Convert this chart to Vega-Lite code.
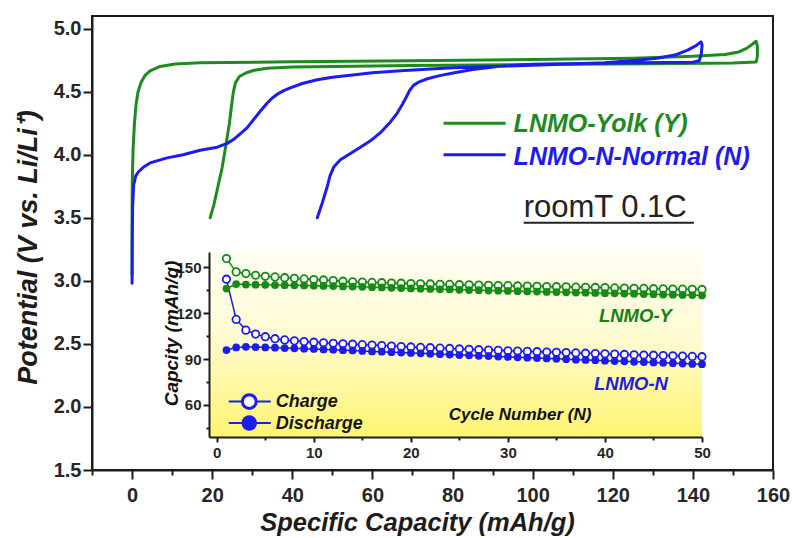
{
  "$schema": "https://vega.github.io/schema/vega-lite/v6.json",
  "width": 681,
  "height": 454,
  "autosize": {"type": "none"},
  "padding": {"left": 92, "top": 16, "right": 19, "bottom": 68},
  "background": "white",
  "config": {
    "font": "Liberation Sans",
    "view": {"stroke": "#1c1c1c", "strokeWidth": 2},
    "axis": {
      "grid": false,
      "domainColor": "#1c1c1c",
      "domainWidth": 2,
      "tickColor": "#1c1c1c",
      "tickWidth": 2,
      "labelColor": "#262626",
      "labelFont": "Liberation Sans",
      "labelFontWeight": "bold",
      "labelOverlap": false,
      "labelFlush": false,
      "titleColor": "#1c1c1c",
      "titleFont": "Liberation Sans",
      "titleFontWeight": "bold",
      "titleFontStyle": "italic"
    }
  },
  "datasets": {
    "curves": [
      {"s": "Y", "i": 0, "q": 0, "v": 3.05},
      {"s": "Y", "i": 1, "q": 0.0, "v": 3.45},
      {"s": "Y", "i": 2, "q": 0.05, "v": 3.78},
      {"s": "Y", "i": 3, "q": 0.25, "v": 4.04},
      {"s": "Y", "i": 4, "q": 0.6, "v": 4.25},
      {"s": "Y", "i": 5, "q": 1.0, "v": 4.4},
      {"s": "Y", "i": 6, "q": 1.5, "v": 4.5},
      {"s": "Y", "i": 7, "q": 2.2, "v": 4.57},
      {"s": "Y", "i": 8, "q": 3.25, "v": 4.63},
      {"s": "Y", "i": 9, "q": 4.5, "v": 4.665},
      {"s": "Y", "i": 10, "q": 7, "v": 4.7},
      {"s": "Y", "i": 11, "q": 10.75, "v": 4.72},
      {"s": "Y", "i": 12, "q": 17, "v": 4.73},
      {"s": "Y", "i": 13, "q": 40, "v": 4.737},
      {"s": "Y", "i": 14, "q": 70, "v": 4.745},
      {"s": "Y", "i": 15, "q": 100, "v": 4.755},
      {"s": "Y", "i": 16, "q": 125, "v": 4.765},
      {"s": "Y", "i": 17, "q": 140, "v": 4.78},
      {"s": "Y", "i": 18, "q": 148, "v": 4.795},
      {"s": "Y", "i": 19, "q": 151.5, "v": 4.815},
      {"s": "Y", "i": 20, "q": 153.5, "v": 4.845},
      {"s": "Y", "i": 21, "q": 155, "v": 4.88},
      {"s": "Y", "i": 22, "q": 155.75, "v": 4.9},
      {"s": "Y", "i": 23, "q": 156.1, "v": 4.86},
      {"s": "Y", "i": 24, "q": 156.1, "v": 4.78},
      {"s": "Y", "i": 25, "q": 155.8, "v": 4.735},
      {"s": "Y", "i": 26, "q": 150, "v": 4.728},
      {"s": "Y", "i": 27, "q": 130, "v": 4.722},
      {"s": "Y", "i": 28, "q": 100, "v": 4.715},
      {"s": "Y", "i": 29, "q": 70, "v": 4.708},
      {"s": "Y", "i": 30, "q": 50, "v": 4.7},
      {"s": "Y", "i": 31, "q": 40, "v": 4.695},
      {"s": "Y", "i": 32, "q": 33.75, "v": 4.685},
      {"s": "Y", "i": 33, "q": 30.5, "v": 4.67},
      {"s": "Y", "i": 34, "q": 28.5, "v": 4.65},
      {"s": "Y", "i": 35, "q": 26.8, "v": 4.62},
      {"s": "Y", "i": 36, "q": 25.8, "v": 4.57},
      {"s": "Y", "i": 37, "q": 25.25, "v": 4.49},
      {"s": "Y", "i": 38, "q": 24.8, "v": 4.38},
      {"s": "Y", "i": 39, "q": 24.3, "v": 4.25},
      {"s": "Y", "i": 40, "q": 23.5, "v": 4.09},
      {"s": "Y", "i": 41, "q": 22.5, "v": 3.9},
      {"s": "Y", "i": 42, "q": 21.25, "v": 3.72},
      {"s": "Y", "i": 43, "q": 20.4, "v": 3.6},
      {"s": "Y", "i": 44, "q": 19.5, "v": 3.5},
      {"s": "N", "i": 0, "q": 0, "v": 2.98},
      {"s": "N", "i": 1, "q": 0.05, "v": 3.3},
      {"s": "N", "i": 2, "q": 0.15, "v": 3.6},
      {"s": "N", "i": 3, "q": 0.4, "v": 3.76},
      {"s": "N", "i": 4, "q": 0.9, "v": 3.83},
      {"s": "N", "i": 5, "q": 1.6, "v": 3.865},
      {"s": "N", "i": 6, "q": 3, "v": 3.905},
      {"s": "N", "i": 7, "q": 4.5, "v": 3.935},
      {"s": "N", "i": 8, "q": 8.75, "v": 3.975},
      {"s": "N", "i": 9, "q": 12.75, "v": 4.0},
      {"s": "N", "i": 10, "q": 17, "v": 4.035},
      {"s": "N", "i": 11, "q": 21.25, "v": 4.06},
      {"s": "N", "i": 12, "q": 23.75, "v": 4.09},
      {"s": "N", "i": 13, "q": 25.5, "v": 4.125},
      {"s": "N", "i": 14, "q": 27, "v": 4.165},
      {"s": "N", "i": 15, "q": 28.75, "v": 4.215},
      {"s": "N", "i": 16, "q": 30.25, "v": 4.275},
      {"s": "N", "i": 17, "q": 32, "v": 4.345},
      {"s": "N", "i": 18, "q": 33.75, "v": 4.41},
      {"s": "N", "i": 19, "q": 35, "v": 4.45},
      {"s": "N", "i": 20, "q": 36.25, "v": 4.48},
      {"s": "N", "i": 21, "q": 38, "v": 4.51},
      {"s": "N", "i": 22, "q": 39.5, "v": 4.53},
      {"s": "N", "i": 23, "q": 42.5, "v": 4.565},
      {"s": "N", "i": 24, "q": 46.25, "v": 4.595},
      {"s": "N", "i": 25, "q": 50, "v": 4.615},
      {"s": "N", "i": 26, "q": 54.5, "v": 4.63},
      {"s": "N", "i": 27, "q": 60, "v": 4.65},
      {"s": "N", "i": 28, "q": 67, "v": 4.665},
      {"s": "N", "i": 29, "q": 80, "v": 4.69},
      {"s": "N", "i": 30, "q": 100, "v": 4.71},
      {"s": "N", "i": 31, "q": 118, "v": 4.73},
      {"s": "N", "i": 32, "q": 126, "v": 4.75},
      {"s": "N", "i": 33, "q": 131, "v": 4.765},
      {"s": "N", "i": 34, "q": 135.5, "v": 4.79},
      {"s": "N", "i": 35, "q": 138.7, "v": 4.83},
      {"s": "N", "i": 36, "q": 140.8, "v": 4.865},
      {"s": "N", "i": 37, "q": 142, "v": 4.895},
      {"s": "N", "i": 38, "q": 142.3, "v": 4.87},
      {"s": "N", "i": 39, "q": 142.1, "v": 4.8},
      {"s": "N", "i": 40, "q": 141.6, "v": 4.745},
      {"s": "N", "i": 41, "q": 140, "v": 4.733},
      {"s": "N", "i": 42, "q": 120, "v": 4.728},
      {"s": "N", "i": 43, "q": 100, "v": 4.718},
      {"s": "N", "i": 44, "q": 91.25, "v": 4.7},
      {"s": "N", "i": 45, "q": 85, "v": 4.675},
      {"s": "N", "i": 46, "q": 80.5, "v": 4.65},
      {"s": "N", "i": 47, "q": 76.5, "v": 4.625},
      {"s": "N", "i": 48, "q": 73.5, "v": 4.6},
      {"s": "N", "i": 49, "q": 71.5, "v": 4.575},
      {"s": "N", "i": 50, "q": 70.25, "v": 4.55},
      {"s": "N", "i": 51, "q": 69.3, "v": 4.51},
      {"s": "N", "i": 52, "q": 68.5, "v": 4.46},
      {"s": "N", "i": 53, "q": 67.5, "v": 4.4},
      {"s": "N", "i": 54, "q": 66.2, "v": 4.33},
      {"s": "N", "i": 55, "q": 64.5, "v": 4.26},
      {"s": "N", "i": 56, "q": 62, "v": 4.175},
      {"s": "N", "i": 57, "q": 59.5, "v": 4.11},
      {"s": "N", "i": 58, "q": 57, "v": 4.06},
      {"s": "N", "i": 59, "q": 54.5, "v": 4.01},
      {"s": "N", "i": 60, "q": 52, "v": 3.96},
      {"s": "N", "i": 61, "q": 50.3, "v": 3.9},
      {"s": "N", "i": 62, "q": 49.4, "v": 3.83},
      {"s": "N", "i": 63, "q": 48.75, "v": 3.75},
      {"s": "N", "i": 64, "q": 47.5, "v": 3.62},
      {"s": "N", "i": 65, "q": 46.25, "v": 3.5}
    ],
    "cycles": [
      {"c": 1, "s": "Y", "k": "Charge", "cap": 155.7}, {"c": 2, "s": "Y", "k": "Charge", "cap": 147.0}, {"c": 3, "s": "Y", "k": "Charge", "cap": 145.9}, {"c": 4, "s": "Y", "k": "Charge", "cap": 144.8}, {"c": 5, "s": "Y", "k": "Charge", "cap": 144.1},
      {"c": 6, "s": "Y", "k": "Charge", "cap": 143.7}, {"c": 7, "s": "Y", "k": "Charge", "cap": 143.2}, {"c": 8, "s": "Y", "k": "Charge", "cap": 142.8}, {"c": 9, "s": "Y", "k": "Charge", "cap": 142.4}, {"c": 10, "s": "Y", "k": "Charge", "cap": 142.0},
      {"c": 11, "s": "Y", "k": "Charge", "cap": 141.7}, {"c": 12, "s": "Y", "k": "Charge", "cap": 141.3}, {"c": 13, "s": "Y", "k": "Charge", "cap": 140.9}, {"c": 14, "s": "Y", "k": "Charge", "cap": 140.5}, {"c": 15, "s": "Y", "k": "Charge", "cap": 140.3},
      {"c": 16, "s": "Y", "k": "Charge", "cap": 140.1}, {"c": 17, "s": "Y", "k": "Charge", "cap": 139.9}, {"c": 18, "s": "Y", "k": "Charge", "cap": 139.7}, {"c": 19, "s": "Y", "k": "Charge", "cap": 139.6}, {"c": 20, "s": "Y", "k": "Charge", "cap": 139.4},
      {"c": 21, "s": "Y", "k": "Charge", "cap": 139.2}, {"c": 22, "s": "Y", "k": "Charge", "cap": 139.1}, {"c": 23, "s": "Y", "k": "Charge", "cap": 138.9}, {"c": 24, "s": "Y", "k": "Charge", "cap": 138.8}, {"c": 25, "s": "Y", "k": "Charge", "cap": 138.6},
      {"c": 26, "s": "Y", "k": "Charge", "cap": 138.5}, {"c": 27, "s": "Y", "k": "Charge", "cap": 138.4}, {"c": 28, "s": "Y", "k": "Charge", "cap": 138.2}, {"c": 29, "s": "Y", "k": "Charge", "cap": 138.1}, {"c": 30, "s": "Y", "k": "Charge", "cap": 138.0},
      {"c": 31, "s": "Y", "k": "Charge", "cap": 137.8}, {"c": 32, "s": "Y", "k": "Charge", "cap": 137.7}, {"c": 33, "s": "Y", "k": "Charge", "cap": 137.6}, {"c": 34, "s": "Y", "k": "Charge", "cap": 137.4}, {"c": 35, "s": "Y", "k": "Charge", "cap": 137.3},
      {"c": 36, "s": "Y", "k": "Charge", "cap": 137.2}, {"c": 37, "s": "Y", "k": "Charge", "cap": 137.0}, {"c": 38, "s": "Y", "k": "Charge", "cap": 136.9}, {"c": 39, "s": "Y", "k": "Charge", "cap": 136.8}, {"c": 40, "s": "Y", "k": "Charge", "cap": 136.7},
      {"c": 41, "s": "Y", "k": "Charge", "cap": 136.5}, {"c": 42, "s": "Y", "k": "Charge", "cap": 136.4}, {"c": 43, "s": "Y", "k": "Charge", "cap": 136.3}, {"c": 44, "s": "Y", "k": "Charge", "cap": 136.2}, {"c": 45, "s": "Y", "k": "Charge", "cap": 136.0},
      {"c": 46, "s": "Y", "k": "Charge", "cap": 135.9}, {"c": 47, "s": "Y", "k": "Charge", "cap": 135.8}, {"c": 48, "s": "Y", "k": "Charge", "cap": 135.7}, {"c": 49, "s": "Y", "k": "Charge", "cap": 135.6}, {"c": 50, "s": "Y", "k": "Charge", "cap": 135.5},
      {"c": 1, "s": "Y", "k": "Discharge", "cap": 136.1}, {"c": 2, "s": "Y", "k": "Discharge", "cap": 139.0}, {"c": 3, "s": "Y", "k": "Discharge", "cap": 138.7}, {"c": 4, "s": "Y", "k": "Discharge", "cap": 138.6}, {"c": 5, "s": "Y", "k": "Discharge", "cap": 138.5},
      {"c": 6, "s": "Y", "k": "Discharge", "cap": 138.4}, {"c": 7, "s": "Y", "k": "Discharge", "cap": 138.3}, {"c": 8, "s": "Y", "k": "Discharge", "cap": 138.2}, {"c": 9, "s": "Y", "k": "Discharge", "cap": 138.1}, {"c": 10, "s": "Y", "k": "Discharge", "cap": 138.0},
      {"c": 11, "s": "Y", "k": "Discharge", "cap": 137.8}, {"c": 12, "s": "Y", "k": "Discharge", "cap": 137.7}, {"c": 13, "s": "Y", "k": "Discharge", "cap": 137.5}, {"c": 14, "s": "Y", "k": "Discharge", "cap": 137.4}, {"c": 15, "s": "Y", "k": "Discharge", "cap": 137.2},
      {"c": 16, "s": "Y", "k": "Discharge", "cap": 137.0}, {"c": 17, "s": "Y", "k": "Discharge", "cap": 136.8}, {"c": 18, "s": "Y", "k": "Discharge", "cap": 136.6}, {"c": 19, "s": "Y", "k": "Discharge", "cap": 136.4}, {"c": 20, "s": "Y", "k": "Discharge", "cap": 136.2},
      {"c": 21, "s": "Y", "k": "Discharge", "cap": 136.0}, {"c": 22, "s": "Y", "k": "Discharge", "cap": 135.8}, {"c": 23, "s": "Y", "k": "Discharge", "cap": 135.6}, {"c": 24, "s": "Y", "k": "Discharge", "cap": 135.5}, {"c": 25, "s": "Y", "k": "Discharge", "cap": 135.3},
      {"c": 26, "s": "Y", "k": "Discharge", "cap": 135.1}, {"c": 27, "s": "Y", "k": "Discharge", "cap": 135.0}, {"c": 28, "s": "Y", "k": "Discharge", "cap": 134.8}, {"c": 29, "s": "Y", "k": "Discharge", "cap": 134.7}, {"c": 30, "s": "Y", "k": "Discharge", "cap": 134.5},
      {"c": 31, "s": "Y", "k": "Discharge", "cap": 134.4}, {"c": 32, "s": "Y", "k": "Discharge", "cap": 134.2}, {"c": 33, "s": "Y", "k": "Discharge", "cap": 134.1}, {"c": 34, "s": "Y", "k": "Discharge", "cap": 133.9}, {"c": 35, "s": "Y", "k": "Discharge", "cap": 133.8},
      {"c": 36, "s": "Y", "k": "Discharge", "cap": 133.6}, {"c": 37, "s": "Y", "k": "Discharge", "cap": 133.5}, {"c": 38, "s": "Y", "k": "Discharge", "cap": 133.4}, {"c": 39, "s": "Y", "k": "Discharge", "cap": 133.2}, {"c": 40, "s": "Y", "k": "Discharge", "cap": 133.1},
      {"c": 41, "s": "Y", "k": "Discharge", "cap": 133.0}, {"c": 42, "s": "Y", "k": "Discharge", "cap": 132.8}, {"c": 43, "s": "Y", "k": "Discharge", "cap": 132.7}, {"c": 44, "s": "Y", "k": "Discharge", "cap": 132.5}, {"c": 45, "s": "Y", "k": "Discharge", "cap": 132.4},
      {"c": 46, "s": "Y", "k": "Discharge", "cap": 132.2}, {"c": 47, "s": "Y", "k": "Discharge", "cap": 132.1}, {"c": 48, "s": "Y", "k": "Discharge", "cap": 131.9}, {"c": 49, "s": "Y", "k": "Discharge", "cap": 131.8}, {"c": 50, "s": "Y", "k": "Discharge", "cap": 131.6},
      {"c": 1, "s": "N", "k": "Charge", "cap": 142.2}, {"c": 2, "s": "N", "k": "Charge", "cap": 115.9}, {"c": 3, "s": "N", "k": "Charge", "cap": 108.9}, {"c": 4, "s": "N", "k": "Charge", "cap": 106.3}, {"c": 5, "s": "N", "k": "Charge", "cap": 104.6},
      {"c": 6, "s": "N", "k": "Charge", "cap": 103.3}, {"c": 7, "s": "N", "k": "Charge", "cap": 102.5}, {"c": 8, "s": "N", "k": "Charge", "cap": 101.9}, {"c": 9, "s": "N", "k": "Charge", "cap": 101.4}, {"c": 10, "s": "N", "k": "Charge", "cap": 101.0},
      {"c": 11, "s": "N", "k": "Charge", "cap": 100.6}, {"c": 12, "s": "N", "k": "Charge", "cap": 100.3}, {"c": 13, "s": "N", "k": "Charge", "cap": 100.0}, {"c": 14, "s": "N", "k": "Charge", "cap": 99.7}, {"c": 15, "s": "N", "k": "Charge", "cap": 99.4},
      {"c": 16, "s": "N", "k": "Charge", "cap": 99.1}, {"c": 17, "s": "N", "k": "Charge", "cap": 98.8}, {"c": 18, "s": "N", "k": "Charge", "cap": 98.5}, {"c": 19, "s": "N", "k": "Charge", "cap": 98.2}, {"c": 20, "s": "N", "k": "Charge", "cap": 97.9},
      {"c": 21, "s": "N", "k": "Charge", "cap": 97.6}, {"c": 22, "s": "N", "k": "Charge", "cap": 97.4}, {"c": 23, "s": "N", "k": "Charge", "cap": 97.1}, {"c": 24, "s": "N", "k": "Charge", "cap": 96.9}, {"c": 25, "s": "N", "k": "Charge", "cap": 96.6},
      {"c": 26, "s": "N", "k": "Charge", "cap": 96.4}, {"c": 27, "s": "N", "k": "Charge", "cap": 96.1}, {"c": 28, "s": "N", "k": "Charge", "cap": 95.9}, {"c": 29, "s": "N", "k": "Charge", "cap": 95.7}, {"c": 30, "s": "N", "k": "Charge", "cap": 95.4},
      {"c": 31, "s": "N", "k": "Charge", "cap": 95.2}, {"c": 32, "s": "N", "k": "Charge", "cap": 95.0}, {"c": 33, "s": "N", "k": "Charge", "cap": 94.8}, {"c": 34, "s": "N", "k": "Charge", "cap": 94.6}, {"c": 35, "s": "N", "k": "Charge", "cap": 94.4},
      {"c": 36, "s": "N", "k": "Charge", "cap": 94.2}, {"c": 37, "s": "N", "k": "Charge", "cap": 94.0}, {"c": 38, "s": "N", "k": "Charge", "cap": 93.8}, {"c": 39, "s": "N", "k": "Charge", "cap": 93.6}, {"c": 40, "s": "N", "k": "Charge", "cap": 93.4},
      {"c": 41, "s": "N", "k": "Charge", "cap": 93.2}, {"c": 42, "s": "N", "k": "Charge", "cap": 93.0}, {"c": 43, "s": "N", "k": "Charge", "cap": 92.8}, {"c": 44, "s": "N", "k": "Charge", "cap": 92.6}, {"c": 45, "s": "N", "k": "Charge", "cap": 92.5},
      {"c": 46, "s": "N", "k": "Charge", "cap": 92.3}, {"c": 47, "s": "N", "k": "Charge", "cap": 92.1}, {"c": 48, "s": "N", "k": "Charge", "cap": 91.9}, {"c": 49, "s": "N", "k": "Charge", "cap": 91.7}, {"c": 50, "s": "N", "k": "Charge", "cap": 91.5},
      {"c": 1, "s": "N", "k": "Discharge", "cap": 95.9}, {"c": 2, "s": "N", "k": "Discharge", "cap": 97.6}, {"c": 3, "s": "N", "k": "Discharge", "cap": 98.0}, {"c": 4, "s": "N", "k": "Discharge", "cap": 97.8}, {"c": 5, "s": "N", "k": "Discharge", "cap": 97.6},
      {"c": 6, "s": "N", "k": "Discharge", "cap": 97.4}, {"c": 7, "s": "N", "k": "Discharge", "cap": 97.2}, {"c": 8, "s": "N", "k": "Discharge", "cap": 97.0}, {"c": 9, "s": "N", "k": "Discharge", "cap": 96.8}, {"c": 10, "s": "N", "k": "Discharge", "cap": 96.6},
      {"c": 11, "s": "N", "k": "Discharge", "cap": 96.3}, {"c": 12, "s": "N", "k": "Discharge", "cap": 96.1}, {"c": 13, "s": "N", "k": "Discharge", "cap": 95.8}, {"c": 14, "s": "N", "k": "Discharge", "cap": 95.6}, {"c": 15, "s": "N", "k": "Discharge", "cap": 95.3},
      {"c": 16, "s": "N", "k": "Discharge", "cap": 95.0}, {"c": 17, "s": "N", "k": "Discharge", "cap": 94.8}, {"c": 18, "s": "N", "k": "Discharge", "cap": 94.5}, {"c": 19, "s": "N", "k": "Discharge", "cap": 94.2}, {"c": 20, "s": "N", "k": "Discharge", "cap": 94.0},
      {"c": 21, "s": "N", "k": "Discharge", "cap": 93.7}, {"c": 22, "s": "N", "k": "Discharge", "cap": 93.4}, {"c": 23, "s": "N", "k": "Discharge", "cap": 93.2}, {"c": 24, "s": "N", "k": "Discharge", "cap": 92.9}, {"c": 25, "s": "N", "k": "Discharge", "cap": 92.6},
      {"c": 26, "s": "N", "k": "Discharge", "cap": 92.4}, {"c": 27, "s": "N", "k": "Discharge", "cap": 92.1}, {"c": 28, "s": "N", "k": "Discharge", "cap": 91.9}, {"c": 29, "s": "N", "k": "Discharge", "cap": 91.6}, {"c": 30, "s": "N", "k": "Discharge", "cap": 91.4},
      {"c": 31, "s": "N", "k": "Discharge", "cap": 91.1}, {"c": 32, "s": "N", "k": "Discharge", "cap": 90.9}, {"c": 33, "s": "N", "k": "Discharge", "cap": 90.6}, {"c": 34, "s": "N", "k": "Discharge", "cap": 90.4}, {"c": 35, "s": "N", "k": "Discharge", "cap": 90.1},
      {"c": 36, "s": "N", "k": "Discharge", "cap": 89.9}, {"c": 37, "s": "N", "k": "Discharge", "cap": 89.6}, {"c": 38, "s": "N", "k": "Discharge", "cap": 89.4}, {"c": 39, "s": "N", "k": "Discharge", "cap": 89.2}, {"c": 40, "s": "N", "k": "Discharge", "cap": 88.9},
      {"c": 41, "s": "N", "k": "Discharge", "cap": 88.7}, {"c": 42, "s": "N", "k": "Discharge", "cap": 88.5}, {"c": 43, "s": "N", "k": "Discharge", "cap": 88.2}, {"c": 44, "s": "N", "k": "Discharge", "cap": 88.0}, {"c": 45, "s": "N", "k": "Discharge", "cap": 87.8},
      {"c": 46, "s": "N", "k": "Discharge", "cap": 87.5}, {"c": 47, "s": "N", "k": "Discharge", "cap": 87.3}, {"c": 48, "s": "N", "k": "Discharge", "cap": 87.0}, {"c": 49, "s": "N", "k": "Discharge", "cap": 86.8}, {"c": 50, "s": "N", "k": "Discharge", "cap": 86.6}
    ]
  },
  "layer": [
    {
      "layer": [
        {
          "data": {"name": "curves"},
          "mark": {"type": "line", "strokeWidth": 3, "strokeJoin": "round", "strokeCap": "round"},
          "encoding": {
            "x": {
              "field": "q", "type": "quantitative",
              "scale": {"domain": [-10, 160], "nice": false, "zero": false},
              "axis": {
                "values": [-10, 0, 10, 20, 30, 40, 50, 60, 70, 80, 90, 100, 110, 120, 130, 140, 150, 160],
                "labelExpr": "datum.value % 20 === 0 ? datum.label : ''",
                "tickSize": {"condition": {"test": "datum.value % 20 === 0", "value": 9}, "value": 5},
                "labelFontSize": 20,
                "labelPadding": 6,
                "title": "Specific Capacity (mAh/g)",
                "titleFontSize": 25.5,
                "titleX": 325,
                "titleY": 60,
                "titleAlign": "center",
                "titleBaseline": "alphabetic"
              }
            },
            "y": {
              "field": "v", "type": "quantitative",
              "scale": {"domain": [1.5, 5.1], "nice": false, "zero": false},
              "axis": {
                "values": [1.5, 1.75, 2.0, 2.25, 2.5, 2.75, 3.0, 3.25, 3.5, 3.75, 4.0, 4.25, 4.5, 4.75, 5.0],
                "labelExpr": "(datum.value * 2) % 1 === 0 ? format(datum.value, '.1f') : ''",
                "tickSize": {"condition": {"test": "(datum.value * 2) % 1 === 0", "value": 9}, "value": 5},
                "labelFontSize": 20,
                "labelPadding": 2,
                "title": "Potential (V vs. Li/Li⁺)",
                "titleFontSize": 27,
                "titleAngle": 270,
                "titleX": -56,
                "titleY": 231,
                "titleAlign": "center",
                "titleBaseline": "alphabetic"
              }
            },
            "color": {"field": "s", "type": "nominal", "scale": {"domain": ["Y", "N"], "range": ["#1e8b1e", "#1c1cf0"]}, "legend": null},
            "order": {"field": "i", "type": "quantitative"}
          }
        },
        {
          "data": {"values": [{"s": "Y"}]},
          "mark": {"type": "rule", "strokeWidth": 3, "color": "#1e8b1e"},
          "encoding": {"x": {"datum": 77.75, "type": "quantitative"}, "x2": {"datum": 93.25}, "y": {"datum": 4.25, "type": "quantitative"}}
        },
        {
          "data": {"values": [{"s": "N"}]},
          "mark": {"type": "rule", "strokeWidth": 3, "color": "#1c1cf0"},
          "encoding": {"x": {"datum": 77.75, "type": "quantitative"}, "x2": {"datum": 93.25}, "y": {"datum": 4.0, "type": "quantitative"}}
        },
        {
          "data": {"values": [{"t": "LNMO-Yolk (Y)"}]},
          "mark": {"type": "text", "align": "left", "baseline": "alphabetic", "fontSize": 25, "fontWeight": "bold", "fontStyle": "italic", "color": "#1e8b1e"},
          "encoding": {"x": {"datum": 95.25, "type": "quantitative"}, "y": {"datum": 4.183, "type": "quantitative"}, "text": {"field": "t"}}
        },
        {
          "data": {"values": [{"t": "LNMO-N-Normal (N)"}]},
          "mark": {"type": "text", "align": "left", "baseline": "alphabetic", "fontSize": 25, "fontWeight": "bold", "fontStyle": "italic", "color": "#1c1cf0"},
          "encoding": {"x": {"datum": 95.25, "type": "quantitative"}, "y": {"datum": 3.921, "type": "quantitative"}, "text": {"field": "t"}}
        },
        {
          "data": {"values": [{"t": "roomT 0.1C"}]},
          "mark": {"type": "text", "align": "left", "baseline": "alphabetic", "fontSize": 31, "color": "#222222"},
          "encoding": {"x": {"datum": 97.75, "type": "quantitative"}, "y": {"datum": 3.51, "type": "quantitative"}, "text": {"field": "t"}}
        },
        {
          "data": {"values": [{"t": "underline"}]},
          "mark": {"type": "rule", "strokeWidth": 2, "color": "#222222"},
          "encoding": {"x": {"datum": 97.75, "type": "quantitative"}, "x2": {"datum": 140.25}, "y": {"datum": 3.46, "type": "quantitative"}}
        }
      ]
    },
    {
      "layer": [
        {
          "data": {"values": [{"panel": "inset"}]},
          "mark": {
            "type": "rect",
            "fill": {
              "gradient": "linear", "x1": 0, "y1": 0, "x2": 0, "y2": 1,
              "stops": [
                {"offset": 0, "color": "#fffef2"},
                {"offset": 0.45, "color": "#fffbd2"},
                {"offset": 1, "color": "#fff472"}
              ]
            }
          },
          "encoding": {
            "x": {"datum": -0.8, "type": "quantitative"},
            "x2": {"datum": 50},
            "y": {"datum": 39, "type": "quantitative"},
            "y2": {"datum": 160}
          }
        },
        {
          "data": {"name": "cycles"},
          "mark": {"type": "line", "strokeWidth": 1.5},
          "encoding": {
            "x": {
              "field": "c", "type": "quantitative",
              "scale": {"domain": [-0.8, 50], "range": [117, 610], "nice": false, "zero": false},
              "axis": {
                "orient": "bottom",
                "offset": -33,
                "zindex": 1,
                "values": [0, 5, 10, 15, 20, 25, 30, 35, 40, 45, 50],
                "labelExpr": "datum.value % 10 === 0 ? datum.label : ''",
                "tickSize": {"condition": {"test": "datum.value % 10 === 0", "value": 5}, "value": 3},
                "labelFontSize": 15,
                "labelPadding": 3,
                "title": "Cycle Number (N)",
                "titleFontSize": 17,
                "titleColor": "#111111",
                "titleX": 427.5,
                "titleY": -18,
                "titleAlign": "center",
                "titleBaseline": "alphabetic"
              }
            },
            "y": {
              "field": "cap", "type": "quantitative",
              "scale": {"domain": [39, 160], "range": [421, 236], "nice": false, "zero": false},
              "axis": {
                "orient": "left",
                "offset": -117,
                "zindex": 1,
                "values": [45, 60, 75, 90, 105, 120, 135, 150],
                "labelExpr": "datum.value % 30 === 0 ? datum.label : ''",
                "tickSize": {"condition": {"test": "datum.value % 30 === 0", "value": 6}, "value": 3},
                "labelFontSize": 15,
                "labelPadding": 2,
                "title": "Capcity (mAh/g)",
                "titleFontSize": 19,
                "titleColor": "#111111",
                "titleAngle": 270,
                "titleX": -32,
                "titleY": 317,
                "titleAlign": "center",
                "titleBaseline": "alphabetic"
              }
            },
            "stroke": {"field": "s", "type": "nominal", "scale": {"domain": ["Y", "N"], "range": ["#158a15", "#1c1cf0"]}, "legend": null},
            "detail": {"field": "k"}
          }
        },
        {
          "data": {"name": "cycles"},
          "transform": [{"filter": "datum.k === 'Charge'"}],
          "mark": {"type": "point", "shape": "circle", "filled": true, "fill": "white", "strokeWidth": 1.8, "size": 55, "opacity": 1},
          "encoding": {
            "x": {"field": "c", "type": "quantitative"},
            "y": {"field": "cap", "type": "quantitative"},
            "stroke": {"field": "s", "type": "nominal", "legend": null}
          }
        },
        {
          "data": {"name": "cycles"},
          "transform": [{"filter": "datum.k === 'Discharge'"}],
          "mark": {"type": "circle", "size": 60, "opacity": 1},
          "encoding": {
            "x": {"field": "c", "type": "quantitative"},
            "y": {"field": "cap", "type": "quantitative"},
            "fill": {"field": "s", "type": "nominal", "scale": {"domain": ["Y", "N"], "range": ["#158a15", "#1c1cf0"]}, "legend": null}
          }
        },
        {
          "data": {"values": [{"t": "LNMO-Y"}]},
          "mark": {"type": "text", "align": "left", "baseline": "alphabetic", "fontSize": 18.5, "fontWeight": "bold", "fontStyle": "italic", "color": "#138213"},
          "encoding": {"x": {"datum": 39.38, "type": "quantitative"}, "y": {"datum": 114.3, "type": "quantitative"}, "text": {"field": "t"}}
        },
        {
          "data": {"values": [{"t": "LNMO-N"}]},
          "mark": {"type": "text", "align": "left", "baseline": "alphabetic", "fontSize": 18.5, "fontWeight": "bold", "fontStyle": "italic", "color": "#1c1ce6"},
          "encoding": {"x": {"datum": 38.87, "type": "quantitative"}, "y": {"datum": 69.8, "type": "quantitative"}, "text": {"field": "t"}}
        },
        {
          "data": {"values": [{"k": "Charge"}]},
          "mark": {"type": "rule", "strokeWidth": 2, "color": "#1c1cf0"},
          "encoding": {"x": {"datum": 1.24, "type": "quantitative"}, "x2": {"datum": 5.57}, "y": {"datum": 62.2, "type": "quantitative"}}
        },
        {
          "data": {"values": [{"k": "Discharge"}]},
          "mark": {"type": "rule", "strokeWidth": 2, "color": "#1c1cf0"},
          "encoding": {"x": {"datum": 1.24, "type": "quantitative"}, "x2": {"datum": 5.57}, "y": {"datum": 48.1, "type": "quantitative"}}
        },
        {
          "data": {"values": [{"k": "Charge"}]},
          "mark": {"type": "point", "shape": "circle", "filled": true, "fill": "white", "stroke": "#1c1cf0", "strokeWidth": 3, "size": 190, "opacity": 1},
          "encoding": {"x": {"datum": 3.35, "type": "quantitative"}, "y": {"datum": 62.2, "type": "quantitative"}}
        },
        {
          "data": {"values": [{"k": "Discharge"}]},
          "mark": {"type": "circle", "color": "#1c1cf0", "size": 240, "opacity": 1},
          "encoding": {"x": {"datum": 3.35, "type": "quantitative"}, "y": {"datum": 48.1, "type": "quantitative"}}
        },
        {
          "data": {"values": [{"t": "Charge"}]},
          "mark": {"type": "text", "align": "left", "baseline": "alphabetic", "fontSize": 18, "fontWeight": "bold", "fontStyle": "italic", "color": "#151515"},
          "encoding": {"x": {"datum": 6.08, "type": "quantitative"}, "y": {"datum": 58.9, "type": "quantitative"}, "text": {"field": "t"}}
        },
        {
          "data": {"values": [{"t": "Discharge"}]},
          "mark": {"type": "text", "align": "left", "baseline": "alphabetic", "fontSize": 18, "fontWeight": "bold", "fontStyle": "italic", "color": "#151515"},
          "encoding": {"x": {"datum": 6.08, "type": "quantitative"}, "y": {"datum": 44.1, "type": "quantitative"}, "text": {"field": "t"}}
        }
      ]
    }
  ],
  "resolve": {
    "scale": {"x": "independent", "y": "independent"},
    "axis": {"x": "independent", "y": "independent"}
  }
}
